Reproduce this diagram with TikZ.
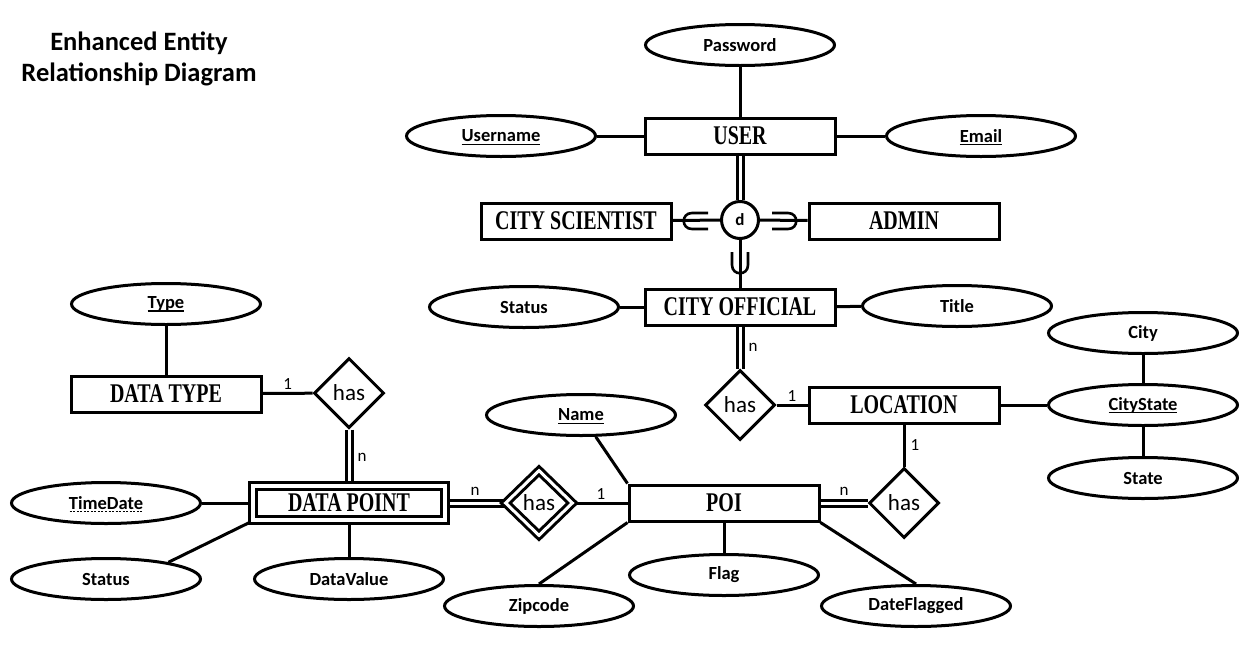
\documentclass[tikz,border=0pt]{standalone}
\usepackage{fontspec}
\setmainfont{Carlito}
\newfontfamily\entfont[FakeStretch=0.74]{Liberation Serif}
\usetikzlibrary{shapes.geometric,backgrounds}
\newcommand\myul[1]{\setbox0\hbox{#1}\rlap{\smash{\rule[-3pt]{\wd0}{1.3pt}}}\box0}
\newcommand\mydul[1]{\setbox0\hbox{#1}\rlap{\smash{\raisebox{-3pt}{\hbox to \wd0{\xleaders\hbox to 3.5pt{\hss\rule{2pt}{1.1pt}\hss}\hfill}}}}\box0}
\tikzset{
  ent/.style={draw, line width=3pt, fill=white, minimum width=190pt, minimum height=36pt, inner sep=0pt, font=\entfont\bfseries\fontsize{27}{27}\selectfont},
  went/.style={ent, double, double distance=3.5pt, minimum width=192pt, minimum height=34pt},
  attr/.style={ellipse, draw, line width=3pt, fill=white, minimum width=189pt, minimum height=41pt, inner sep=0pt, font=\bfseries\fontsize{18.5}{18.5}\selectfont},
  rel/.style={diamond, draw, line width=3pt, fill=white, minimum width=70pt, minimum height=70pt, inner sep=0pt, font=\fontsize{23}{23}\selectfont},
  wrel/.style={rel, double, double distance=3pt, minimum width=68pt, minimum height=66pt},
  spec/.style={circle, draw, line width=3pt, fill=white, minimum size=37pt, inner sep=0pt, font=\bfseries\fontsize{17}{17}\selectfont},
  lbl/.style={font=\fontsize{17}{17}\selectfont, inner sep=2pt},
  conn/.style={line width=3pt},
  dconn/.style={line width=3pt, double, double distance=3pt},
  subs/.style={line width=2.6pt},
  ttl/.style={align=center, font=\bfseries\fontsize{26.5}{31}\selectfont}
}
\begin{document}
\begin{tikzpicture}[x=1pt, y=-1pt]
\useasboundingbox (0,0) rectangle (1253,654);
\node[ttl] (title) at (139,59) {Enhanced Entity\\Relationship Diagram};
\node[attr] (pw) at (740,45) {Password};
\node[ent] (user) at (740,136) {USER};
\node[attr] (un) at (501,136) {\myul{Username}};
\node[attr] (em) at (981,136) {\myul{Email}};
\node[spec] (d) at (740,220) {d};
\node[ent] (cs) at (576,221) {CITY SCIENTIST};
\node[ent] (adm) at (904,221) {ADMIN};
\node[ent] (co) at (740,307) {CITY OFFICIAL};
\node[attr] (cost) at (524,307) {Status};
\node[attr] (ti) at (957,306) {Title};
\node[rel] (h2) at (740,405) {has};
\node[ent] (loc) at (904,405) {LOCATION};
\node[attr] (cst) at (1143,405) {\myul{CityState}};
\node[attr] (city) at (1143,333) {City};
\node[attr] (state) at (1143,478) {State};
\node[rel] (h3) at (904,503) {has};
\node[ent] (poi) at (724,503) {POI};
\node[attr] (nm) at (581,415) {\myul{Name}};
\node[attr] (fl) at (724,575) {Flag};
\node[attr] (zip) at (539,606) {Zipcode};
\node[attr] (dfl) at (916,606) {DateFlagged};
\node[wrel] (h4) at (539,503) {has};
\node[went] (dp) at (349,503) {DATA POINT};
\node[attr] (td) at (106,503) {\mydul{TimeDate}};
\node[attr] (dst) at (106,579) {Status};
\node[attr] (dv) at (349,579) {DataValue};
\node[rel] (h1) at (349,393) {has};
\node[ent] (dt) at (166,394) {DATA TYPE};
\node[attr] (ty) at (166,304) {\myul{Type}};
\begin{scope}[on background layer]
\draw[conn] (pw) -- (user);
\draw[conn] (un) -- (user);
\draw[conn] (user) -- (em);
\draw[dconn] (user) -- (d);
\draw[conn] (d) -- (cs);
\draw[conn] (d) -- (adm);
\draw[conn] (d) -- (co);
\draw[conn] (cost) -- (co);
\draw[conn] (co) -- (ti);
\draw[dconn] (co) -- node[lbl, right=5pt] {n} (h2);
\draw[conn] (h2) -- node[lbl, above] {1} (loc);
\draw[conn] (loc) -- (cst);
\draw[conn] (city) -- (cst);
\draw[conn] (cst) -- (state);
\draw[conn] (loc) -- node[lbl, right=3pt] {1} (h3);
\draw[dconn] (poi) -- node[lbl, above=4pt] {n} (h3);
\draw[conn] (nm) -- (poi.north west);
\draw[conn] (poi) -- (fl);
\draw[conn] (poi.south west) -- (zip.north);
\draw[conn] (poi.south east) -- (dfl.north);
\draw[conn] (h4) -- node[lbl, above] {1} (poi);
\draw[dconn] (dp) -- node[lbl, above=4pt] {n} (h4);
\draw[conn] (td) -- (dp);
\draw[conn] (dp.south west) -- (dst.15);
\draw[conn] (dp) -- (dv);
\draw[conn] (dt) -- node[lbl, above] {1} (h1);
\draw[dconn] (h1) -- node[lbl, right=5pt] {n} (dp);
\draw[conn] (ty) -- (dt);
\end{scope}
\draw[subs] (708,213) -- (692,213) .. controls (681,213) and (681,229) .. (692,229) -- (708,229);
\draw[subs] (772,213) -- (788,213) .. controls (799,213) and (799,229) .. (788,229) -- (772,229);
\draw[subs] (732,252) -- (732,265) .. controls (732,276) and (748,276) .. (748,265) -- (748,252);
\end{tikzpicture}
\end{document}
